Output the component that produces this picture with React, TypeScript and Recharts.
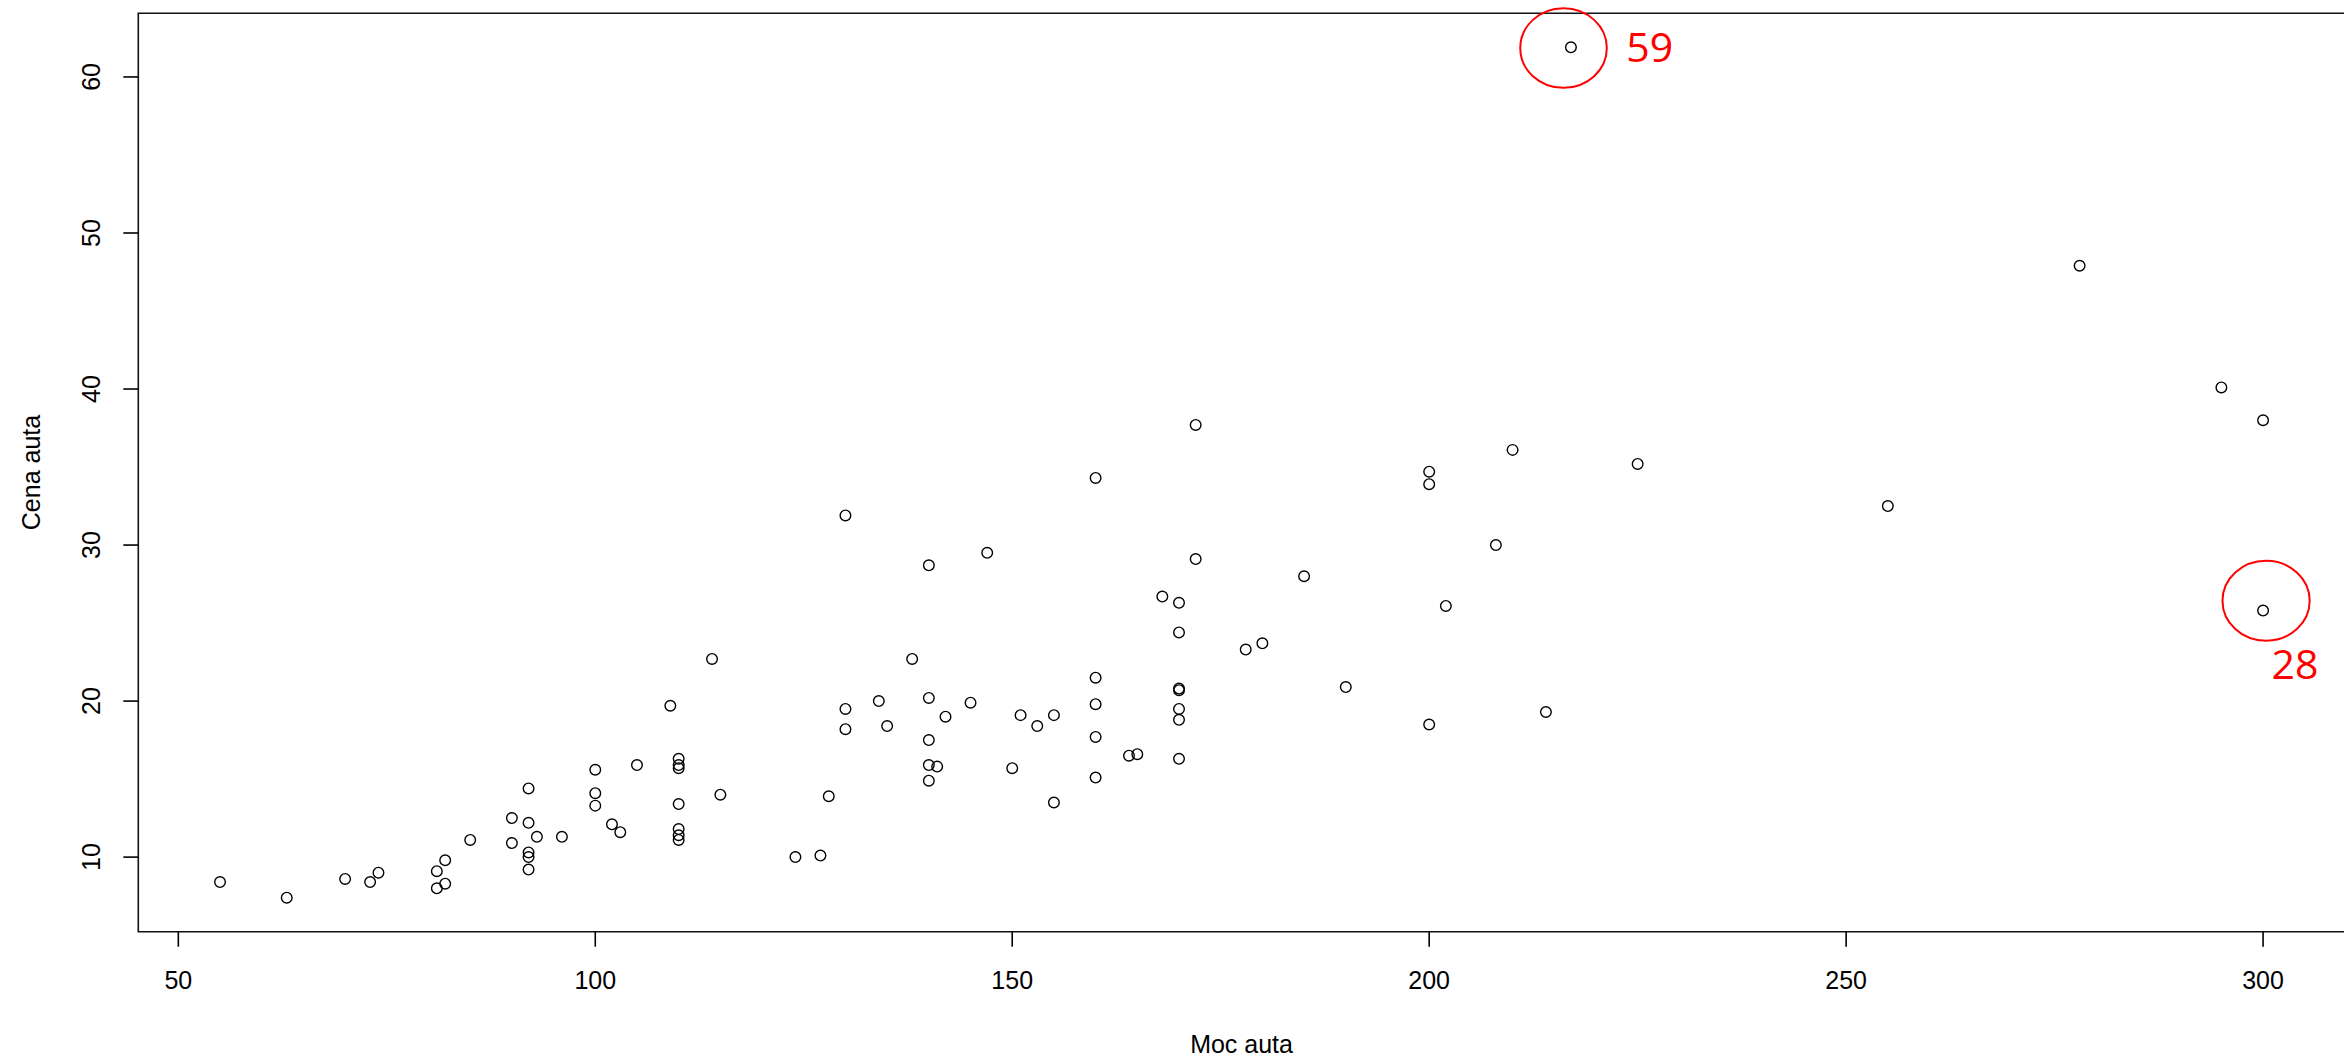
import React from 'react';
import { ScatterChart, Scatter, XAxis, YAxis, ReferenceArea, ReferenceDot } from 'recharts';

// Moc auta (horsepower) for each car, in data order
const horsepower = [
  140, 200, 172, 172, 208, 110, 170, 180, 170, 200,
  295, 110, 110, 160, 110, 170, 165, 170, 300, 153,
  141, 147, 92, 93, 100, 142, 100, 300, 92, 214,
  63, 127, 96, 105, 115, 145, 140, 190, 55, 90,
  160, 102, 140, 81, 124, 92, 128, 278, 185, 225,
  160, 210, 82, 103, 164, 155, 255, 130, 217, 100,
  140, 92, 202, 110, 150, 151, 160, 155, 110, 170,
  170, 92, 74, 110, 160, 200, 170, 140, 85, 73,
  90, 130, 70, 82, 135, 130, 138, 81, 109, 134,
  178, 114, 168,
];

// Cena auta (price) for each car, same order
const price = [
  15.9, 33.9, 29.1, 37.7, 30.0, 15.7, 20.8, 23.7, 26.3, 34.7,
  40.1, 13.4, 11.4, 15.1, 15.9, 16.3, 16.6, 18.8, 38.0, 18.4,
  15.8, 29.5, 9.2, 11.3, 13.3, 19.0, 15.6, 25.8, 12.2, 19.3,
  7.4, 10.1, 11.3, 15.9, 14.0, 19.9, 20.2, 20.9, 8.4, 12.5,
  19.8, 12.1, 17.5, 8.0, 10.0, 10.0, 13.9, 47.9, 28.0, 35.2,
  34.3, 36.1, 8.3, 11.6, 16.5, 19.1, 32.5, 31.9, 61.9, 14.1,
  14.9, 10.3, 26.1, 11.8, 15.7, 19.1, 21.5, 13.5, 16.3, 19.5,
  20.7, 14.4, 9.0, 11.1, 17.7, 18.5, 24.4, 28.7, 11.1, 8.4,
  10.9, 19.5, 8.6, 9.8, 18.4, 18.2, 22.7, 9.1, 19.7, 20.0,
  23.3, 22.7, 26.7,
];

const xTicks = [50, 100, 150, 200, 250, 300];
const yTicks = [10, 20, 30, 40, 50, 60];

// highlighted observations (row numbers)
const highlighted = [59, 28];

const xTitle = 'Moc auta';
const yTitle = 'Cena auta';

const data = horsepower.map((hp, i) => ({ x: hp, y: price[i], id: i + 1 }));

// R-style 4% extension of the data range
const pad = (arr: number[]) => {
  const mn = Math.min(...arr);
  const mx = Math.max(...arr);
  const d = (mx - mn) * 0.04;
  return [mn - d, mx + d];
};
const xDomain = pad(horsepower);
const yDomain = pad(price);

const FONT = '"Liberation Sans", Arial, Helvetica, sans-serif';
const FS = 25;

const XTick = (props: any) => {
  const { x, y, payload } = props;
  return (
    <text x={x} y={y + 42.6} textAnchor="middle" fontFamily={FONT} fontSize={FS} fill="#000">
      {payload.value}
    </text>
  );
};

const YTick = (props: any) => {
  const { x, y, payload } = props;
  const tx = x - 23.3;
  return (
    <text
      x={tx}
      y={y}
      textAnchor="middle"
      transform={`rotate(-90 ${tx} ${y})`}
      fontFamily={FONT}
      fontSize={FS}
      fill="#000"
    >
      {payload.value}
    </text>
  );
};

const XTitle = (props: any) => {
  const vb = props.viewBox || {};
  return (
    <text x={vb.x + vb.width / 2} y={vb.y + 121} textAnchor="middle" fontFamily={FONT} fontSize={FS} fill="#000">
      {xTitle}
    </text>
  );
};

const YTitle = (props: any) => {
  const vb = props.viewBox || {};
  const tx = vb.x + 39.5;
  const ty = vb.y + vb.height / 2;
  return (
    <text
      x={tx}
      y={ty}
      textAnchor="middle"
      transform={`rotate(-90 ${tx} ${ty})`}
      fontFamily={FONT}
      fontSize={FS}
      fill="#000"
    >
      {yTitle}
    </text>
  );
};

const OpenCircle = (props: any) => (
  <circle cx={props.cx} cy={props.cy} r={5.3} fill="none" stroke="#000" strokeWidth={1.4} />
);

const annotationStyle: Record<number, { ex: number; ey: number; rx: number; ry: number; tx: number; ty: number }> = {
  59: { ex: -7.4, ey: 0.7, rx: 43.3, ry: 39.8, tx: 55.4, ty: 15 },
  28: { ex: 3, ey: -9.8, rx: 43.6, ry: 40, tx: 8.5, ty: 68.7 },
};

const makeAnnotation = (id: number) => (props: any) => {
  const s = annotationStyle[id];
  const { cx, cy } = props;
  return (
    <g>
      <ellipse cx={cx + s.ex} cy={cy + s.ey} rx={s.rx} ry={s.ry} fill="none" stroke="#ff0000" strokeWidth={2} />
      <text x={cx + s.tx} y={cy + s.ty} fontFamily='"Open Sans", "Noto Sans", sans-serif' fontSize={41} fill="#ff0000">
        {id}
      </text>
    </g>
  );
};

export default function App() {
  return (
    <div
      style={{
        position: 'absolute',
        left: 0,
        top: 0,
        width: 2344,
        height: 1061,
        overflow: 'hidden',
        background: '#fff',
      }}
    >
      <ScatterChart width={2350} height={1061} margin={{ top: 13.3, right: 5.2, bottom: 0, left: 0 }}>
        <XAxis
          type="number"
          dataKey="x"
          domain={xDomain}
          ticks={xTicks}
          allowDataOverflow
          height={129.3}
          tickSize={15}
          tickMargin={0}
          axisLine={false}
          tickLine={{ stroke: '#000', strokeWidth: 1.6 }}
          tick={<XTick />}
          label={<XTitle />}
        />
        <YAxis
          type="number"
          dataKey="y"
          domain={yDomain}
          ticks={yTicks}
          allowDataOverflow
          width={138.3}
          tickSize={15}
          tickMargin={0}
          axisLine={false}
          tickLine={{ stroke: '#000', strokeWidth: 1.6 }}
          tick={<YTick />}
          label={<YTitle />}
        />
        <ReferenceArea
          x1={xDomain[0]}
          x2={xDomain[1]}
          y1={yDomain[0]}
          y2={yDomain[1]}
          fill="none"
          fillOpacity={0}
          stroke="#111"
          strokeWidth={1.6}
          strokeOpacity={1}
        />
        <Scatter data={data} shape={<OpenCircle />} isAnimationActive={false} />
        {highlighted.map((id) => {
          const d = data[id - 1];
          return (
            <ReferenceDot key={id} x={d.x} y={d.y} r={1} shape={makeAnnotation(id)} />
          );
        })}
      </ScatterChart>
    </div>
  );
}
